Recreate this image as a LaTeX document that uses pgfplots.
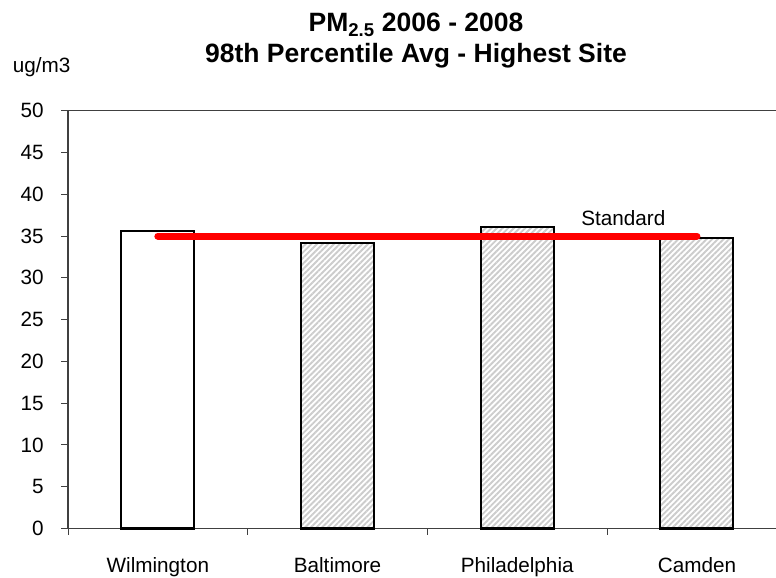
\documentclass[border=0pt]{standalone}
\usepackage{fontspec}
\setmainfont{Liberation Sans}
\usepackage{pgfplots}
\pgfplotsset{compat=1.18}
\usetikzlibrary{patterns.meta}

\newcommand{\lblfont}{\fontsize{20.7bp}{24bp}\selectfont}
\newcommand{\ttlfont}{\fontsize{26.5bp}{30bp}\selectfont\bfseries}

\begin{document}
\begin{tikzpicture}
\useasboundingbox (0bp,0bp) rectangle (776bp,578bp);

% unit label and two-line title
\node[anchor=base west, inner sep=0pt, font=\lblfont] at (12.7bp,505.3bp) {ug/m3};
\node[anchor=base, inner sep=0pt, font=\ttlfont] at (416bp,546bp) {PM\textsubscript{2.5} 2006 - 2008};
\node[anchor=base, inner sep=0pt, font=\ttlfont] at (416bp,515bp) {98th Percentile Avg - Highest Site};

\begin{axis}[
  at={(68bp,49.5bp)}, anchor=south west,
  scale only axis, width=718.8bp, height=417.8bp,
  xmin=-0.5, xmax=3.5, ymin=0, ymax=50,
  ytick={0,5,...,50},
  xtick={-0.5,0.5,1.5,2.5,3.5}, xticklabels={},
  extra x ticks={0,1,2,3},
  extra x tick labels={Wilmington,Baltimore,Philadelphia,Camden},
  extra x tick style={major tick length=0pt},
  tick align=outside, major tick length=6.5bp,
  xtick pos=bottom, ytick pos=left,
  tick style={black!75, line width=1bp},
  axis line style={black!75, line width=1.6bp},
  ticklabel style={font=\lblfont},
  /pgf/number format/assume math mode=true,
  yticklabel style={anchor=east, inner sep=0pt, xshift=-17.7bp},
  xticklabel style={anchor=base, inner sep=0pt, yshift=-43.5bp},
  no marks,
  clip=false,
]
% Wilmington (open bar)
\addplot[ybar, bar width=0.406, draw=black, line width=2bp, fill=white]
  coordinates {(0,35.6)};
% other cities (hatched bars)
\addplot[ybar, bar width=0.406, draw=black, line width=2bp,
  pattern={Lines[angle=45,distance=4bp,line width=1.9bp]}, pattern color=black!20]
  coordinates {(1,34.2) (2,36.1) (3,34.8)};
% 24-hour standard
\addplot[draw={rgb,255:red,255;green,0;blue,0}, line width=7bp, line cap=round]
  coordinates {(0,35) (3,35)};
\node[anchor=base, inner sep=0pt, font=\lblfont] at (axis cs:2.59,36.3) {Standard};
\end{axis}
\end{tikzpicture}
\end{document}
